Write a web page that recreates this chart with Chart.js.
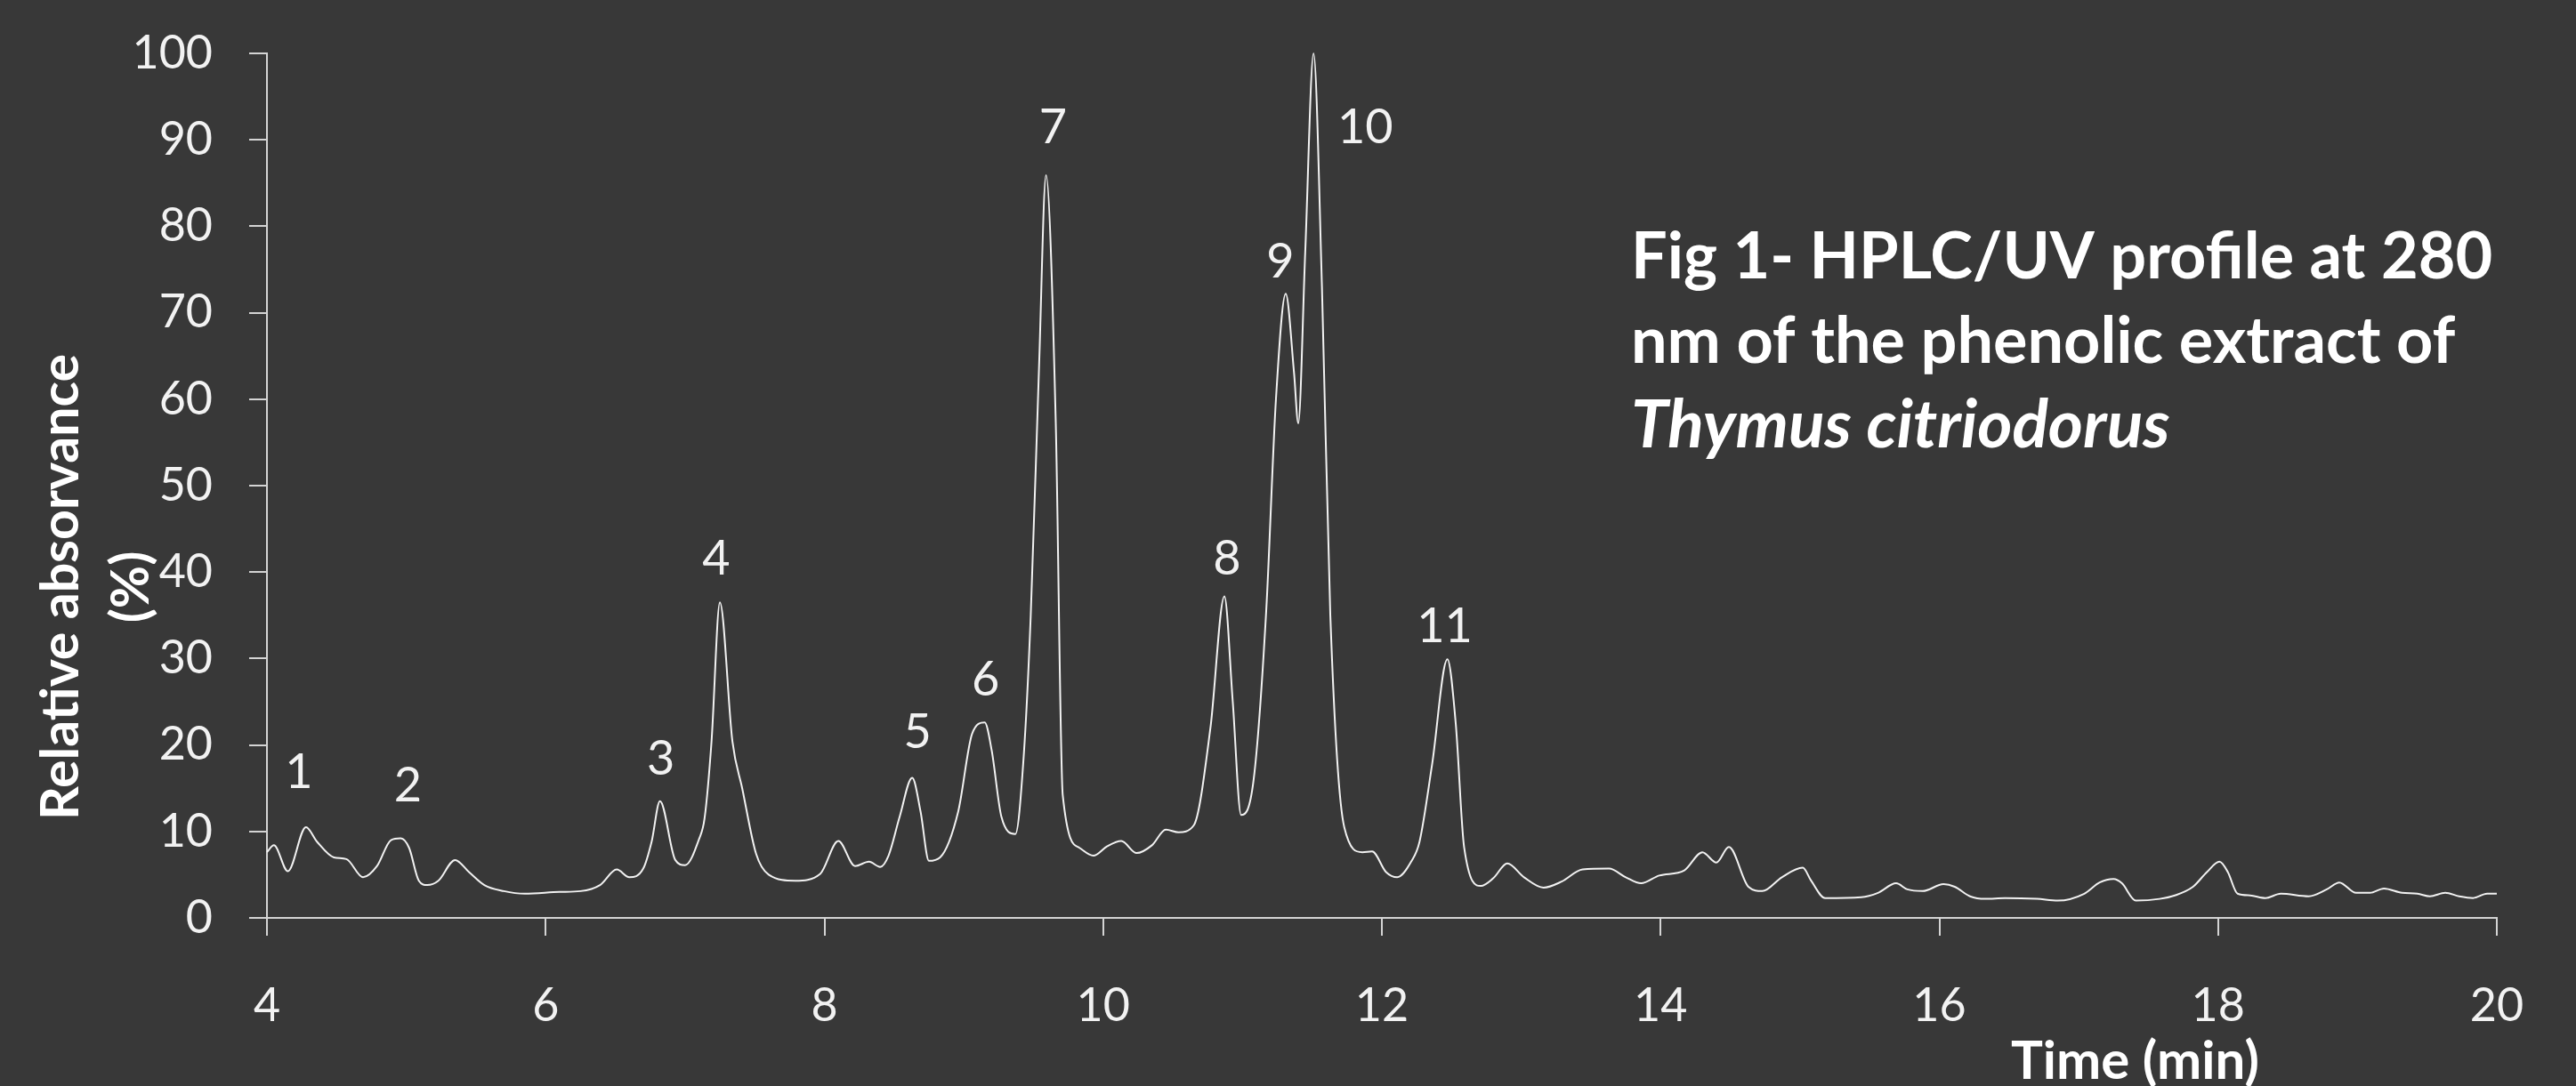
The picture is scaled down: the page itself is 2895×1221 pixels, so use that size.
<!DOCTYPE html>
<html>
<head>
<meta charset="utf-8">
<title>HPLC/UV profile</title>
<script src="https://cdn.jsdelivr.net/npm/chart.js@4.4.1/dist/chart.umd.min.js"></script>
<style>
  html, body { margin: 0; padding: 0; background: #383838; }
  #wrap { width: 2895px; height: 1221px; position: relative; }
</style>
</head>
<body>
<div id="wrap"><canvas id="hplcChart"></canvas></div>
<script>
// retention time (min) and relative absorbance (%)
const timeMin = [
  4.00, 4.05, 4.15, 4.28, 4.36, 4.48, 4.57, 4.69, 4.79, 4.89, 4.96, 5.02, 5.09, 5.15, 5.23, 5.35, 5.45, 5.56, 5.70, 5.85,
  6.10, 6.25, 6.39, 6.51, 6.60, 6.70, 6.76, 6.82, 6.93, 7.00, 7.10, 7.14, 7.19, 7.25, 7.34, 7.41, 7.51, 7.60, 7.79, 7.97,
  8.10, 8.22, 8.32, 8.40, 8.46, 8.54, 8.63, 8.69, 8.75, 8.83, 8.96, 9.06, 9.15, 9.20, 9.27, 9.37, 9.43, 9.48, 9.54, 9.59,
  9.66, 9.71, 9.83, 9.93, 10.03, 10.13, 10.24, 10.35, 10.45, 10.54, 10.65, 10.77, 10.87, 10.93, 10.99, 11.08, 11.17, 11.24, 11.31, 11.37,
  11.40, 11.45, 11.51, 11.57, 11.63, 11.73, 11.86, 11.93, 12.03, 12.11, 12.21, 12.27, 12.36, 12.47, 12.53, 12.59, 12.71, 12.80, 12.90, 13.02,
  13.16, 13.29, 13.44, 13.63, 13.75, 13.86, 13.99, 14.17, 14.30, 14.40, 14.49, 14.63, 14.73, 14.87, 15.02, 15.08, 15.18, 15.44, 15.56, 15.69,
  15.77, 15.88, 16.03, 16.11, 16.22, 16.33, 16.47, 16.70, 16.85, 17.04, 17.15, 17.25, 17.31, 17.41, 17.58, 17.69, 17.82, 17.92, 18.01, 18.07,
  18.14, 18.23, 18.34, 18.45, 18.65, 18.78, 18.87, 18.99, 19.09, 19.19, 19.32, 19.43, 19.52, 19.63, 19.73, 19.83, 19.93, 20.00
];
const absorbance = [
  7.6, 8.4, 5.4, 10.5, 8.8, 7.0, 6.8, 4.7, 6.0, 9.0, 9.2, 8.1, 4.3, 3.8, 4.3, 6.7, 5.3, 3.8, 3.1, 2.8,
  3.0, 3.1, 3.8, 5.6, 4.7, 5.7, 8.8, 13.5, 6.7, 6.1, 9.1, 11.5, 20.4, 36.5, 20.4, 15.0, 7.4, 5.0, 4.3, 5.1,
  8.9, 6.0, 6.5, 5.9, 7.2, 11.7, 16.2, 12.3, 6.6, 7.0, 12.3, 21.3, 22.6, 19.4, 11.7, 9.7, 18.7, 34.8, 63.7, 85.9,
  57.3, 14.2, 8.1, 7.2, 8.3, 8.9, 7.5, 8.4, 10.2, 9.9, 10.7, 22.0, 37.2, 25.0, 11.9, 16.0, 35.5, 60.0, 72.2, 63.0,
  57.2, 77.0, 100, 73.0, 35.0, 10.5, 7.6, 7.7, 5.3, 4.7, 6.5, 8.8, 17.7, 29.9, 22.5, 8.2, 3.7, 4.6, 6.3, 4.7,
  3.5, 4.2, 5.6, 5.7, 4.7, 4.0, 4.9, 5.5, 7.6, 6.4, 8.2, 3.6, 3.1, 4.7, 5.8, 4.3, 2.3, 2.4, 2.9, 4.0,
  3.3, 3.1, 3.9, 3.6, 2.5, 2.2, 2.3, 2.2, 2.0, 2.8, 4.1, 4.5, 4.0, 2.0, 2.2, 2.6, 3.6, 5.3, 6.5, 5.3,
  2.8, 2.6, 2.3, 2.8, 2.5, 3.3, 4.1, 2.9, 2.9, 3.4, 2.9, 2.8, 2.5, 2.9, 2.5, 2.3, 2.8, 2.8
];

// numbered peaks (apex time and height)
const peakNames = ['1', '2', '3', '4', '5', '6', '7', '8', '9', '10', '11'];
const peakTime = [4.28, 4.96, 6.82, 7.25, 8.63, 9.15, 9.59, 10.87, 11.31, 11.51, 12.47];
const peakHeight = [10.5, 9.2, 13.5, 36.5, 16.2, 22.6, 85.9, 37.2, 72.2, 100, 29.9];

const xTicks = [4, 6, 8, 10, 12, 14, 16, 18, 20];
const yTicks = [0, 10, 20, 30, 40, 50, 60, 70, 80, 90, 100];

const titleLines = ['Fig 1- HPLC/UV profile at 280', 'nm of the phenolic extract of', 'Thymus citriodorus'];
const yTitleLines = ['Relative absorvance', '(%)'];
const xTitle = 'Time (min)';

const fg = '#f2f2f2';
const axisColor = '#d4d4d4';

// pixel offsets of each peak number from its apex
const labelOffsets = [[-8, -61], [8, -59], [1, -47], [-4, -49], [6, -51], [1, -48], [8, -53], [3, -42], [-6, -36], [58, 84], [-3, -37]];

const annotations = {
  id: 'annotations',
  afterDatasetsDraw(chart) {
    const ctx = chart.ctx;
    const x = chart.scales.x;
    const y = chart.scales.y;
    ctx.save();
    ctx.fillStyle = fg;
    ctx.textAlign = 'center';
    ctx.textBaseline = 'middle';
    ctx.font = '54px Lato';
    peakNames.forEach((name, i) => {
      const px = x.getPixelForValue(peakTime[i]) + labelOffsets[i][0];
      const py = y.getPixelForValue(peakHeight[i]) + labelOffsets[i][1];
      ctx.fillText(name, px, py);
    });

    // figure title inside the plot
    ctx.fillStyle = '#ffffff';
    ctx.textAlign = 'left';
    ctx.textBaseline = 'alphabetic';
    titleLines.forEach((line, i) => {
      ctx.font = (i === 2 ? 'italic bold 75px Lato' : 'bold 72px Lato');
      ctx.fillText(line, 1833, 313 + i * 95);
    });

    // y axis title, two rotated lines
    ctx.save();
    ctx.translate(88, 660);
    ctx.rotate(-Math.PI / 2);
    ctx.textAlign = 'center';
    ctx.font = 'bold 59px Lato';
    yTitleLines.forEach((line, i) => ctx.fillText(line, 0, i * 79));
    ctx.restore();

    // x axis title
    ctx.font = 'bold 60px Lato';
    ctx.fillText(xTitle, 2260, 1213);
    ctx.restore();
  }
};

const hplcConfig = {
  type: 'line',
  data: {
    datasets: [{
      label: 'Absorbance 280 nm',
      data: timeMin.map((t, i) => ({ x: t, y: absorbance[i] })),
      borderColor: fg,
      borderWidth: 2,
      pointRadius: 0,
      fill: false,
      cubicInterpolationMode: 'monotone',
      clip: false
    }]
  },
  options: {
    responsive: true,
    maintainAspectRatio: false,
    animation: false,
    layout: {
      padding: { left: 0, top: 60, right: 89, bottom: 0 }
    },
    scales: {
      x: {
        type: 'linear',
        min: 4,
        max: 20,
        afterBuildTicks: (scale) => { scale.ticks = xTicks.map(v => ({ value: v })); },
        afterFit: (scale) => { scale.height = 189; },
        grid: { drawOnChartArea: false, drawTicks: true, tickLength: 20, color: axisColor, lineWidth: 2 },
        border: { color: axisColor, width: 2 },
        ticks: { color: fg, font: { family: 'Lato', size: 52 }, padding: 48, maxRotation: 0 }
      },
      y: {
        type: 'linear',
        min: 0,
        max: 100,
        afterBuildTicks: (scale) => { scale.ticks = yTicks.map(v => ({ value: v })); },
        afterFit: (scale) => { scale.width = 300; scale.paddingTop = 30; },
        grid: { drawOnChartArea: false, drawTicks: true, tickLength: 20, color: axisColor, lineWidth: 2 },
        border: { color: axisColor, width: 2 },
        ticks: { color: fg, font: { family: 'Lato', size: 52 }, padding: 41 }
      }
    },
    plugins: {
      legend: { display: false },
      tooltip: { enabled: false }
    }
  },
  plugins: [annotations]
};

const hplcChart = new Chart(document.getElementById('hplcChart'), hplcConfig);
</script>
</body>
</html>
